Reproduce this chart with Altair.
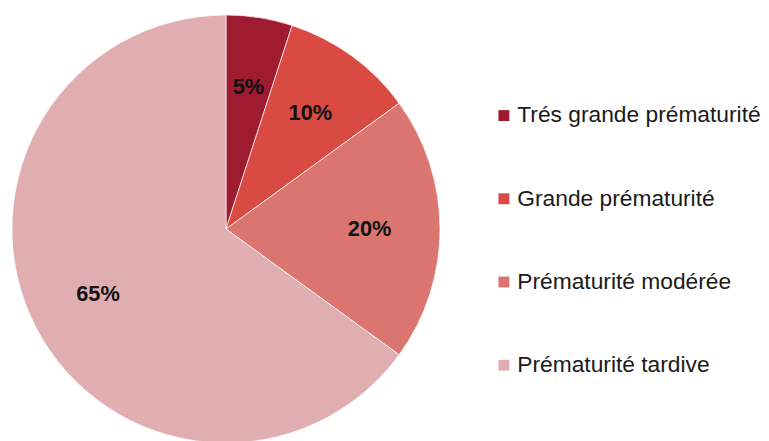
import altair as alt
import pandas as pd

categories = ["Trés grande prématurité", "Grande prématurité", "Prématurité modérée", "Prématurité tardive"]
values = [5, 10, 20, 65]
labels = ["5%", "10%", "20%", "65%"]
colors = ["#9e1b30", "#d94a43", "#da756f", "#e0aeb0"]

df = pd.DataFrame({"cat": categories, "val": values, "lab": labels, "ord": list(range(len(categories)))})

base = alt.Chart(df).encode(
    theta=alt.Theta("val:Q", stack=True),
    order=alt.Order("ord:Q"),
)

pie = base.mark_arc(outerRadius=216, stroke="#ffffff", strokeWidth=1, strokeOpacity=0.7).encode(
    color=alt.Color(
        "cat:N",
        scale=alt.Scale(domain=categories, range=colors),
        sort=categories,
        legend=alt.Legend(
            title=None,
            orient="none",
            legendX=489,
            legendY=95,
            symbolType="square",
            symbolSize=121,
            symbolStrokeWidth=0,
            symbolOpacity=1,
            labelFontSize=23,
            labelFont="Liberation Sans",
            labelColor="#1a1a1a",
            labelOffset=2,
            rowPadding=60,
            labelLimit=400,
        ),
    )
)

text = base.mark_text(
    radius=145, font="Liberation Sans", fontSize=22, fontWeight="bold", color="#111111"
).encode(text="lab:N")

chart = (pie + text).properties(width=440, height=442, padding=0).configure_view(stroke=None)

chart.save("out.html", embed_options={"renderer": "svg", "actions": False})
